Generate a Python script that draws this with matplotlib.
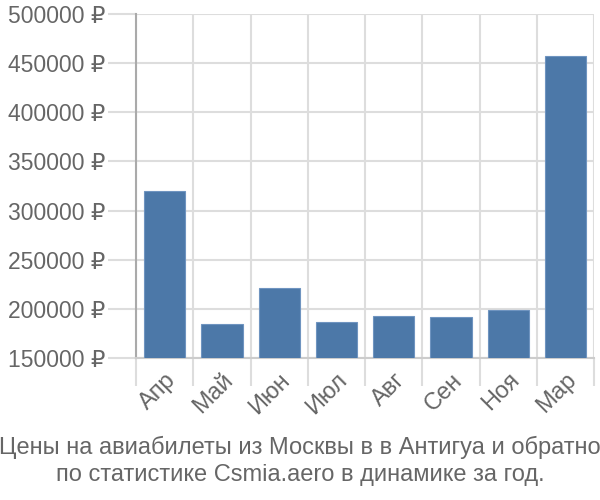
import matplotlib
matplotlib.use("Agg")
import matplotlib.pyplot as plt
import matplotlib.ticker as mticker

plt.rcParams["font.family"] = ["Liberation Sans", "DejaVu Sans"]

# ---------------------------------------------------------------------------
# Data
# ---------------------------------------------------------------------------

months = ["Апр", "Май", "Июн", "Июл", "Авг", "Сен", "Ноя", "Мар"]
prices = [320000, 185000, 221500, 186500, 192500, 192000, 199000, 457500]
y_ticks = [150000, 200000, 250000, 300000, 350000, 400000, 450000, 500000]

caption = ("Цены на авиабилеты из Москвы в в Антигуа и обратно\n"
           "по статистике Csmia.aero в динамике за год.")

# ---------------------------------------------------------------------------
# Figure
# ---------------------------------------------------------------------------

text_col = "#666666"
grid_col = "#dddddd"

fig = plt.figure(figsize=(6, 5), dpi=100)
ax = fig.add_axes([0.227, 0.284, 0.763, 0.688])

x = list(range(len(months)))
ax.bar(x, prices, width=0.72, color="#4c78a8", edgecolor="#6f94c0",
       linewidth=0.8, zorder=3)

ax.set_ylim(150000, 500000)
ax.set_xlim(-0.5, len(months) - 0.5)
ax.set_yticks(y_ticks)
ax.yaxis.set_major_formatter(mticker.FuncFormatter(lambda v, _: f"{v:.0f} ₽"))

# vertical grid at category boundaries
ax.set_xticks([i - 0.5 for i in range(len(months) + 1)], minor=False)
ax.set_xticklabels([])
ax.set_xticks(x, minor=True)
ax.set_xticklabels(months, minor=True, rotation=45, ha="right",
                   rotation_mode="anchor", fontsize=17, color=text_col)
ax.tick_params(axis="x", which="minor", length=0, pad=8)
ax.tick_params(axis="x", which="major", length=20, color=grid_col, width=1.5)
ax.tick_params(axis="y", length=20, color=grid_col, width=1.5,
               labelsize=16.5, labelcolor=text_col, pad=2)

ax.grid(True, which="major", color=grid_col, linewidth=1.5, zorder=0)

for side in ["top", "right"]:
    ax.spines[side].set_visible(False)
ax.spines["left"].set_color("#aaaaaa")
ax.spines["left"].set_linewidth(1.5)
ax.spines["bottom"].set_color("#cccccc")
ax.spines["bottom"].set_linewidth(1.5)

fig.text(0.5, 0.078, caption, ha="center", va="center", fontsize=17,
         color=text_col, linespacing=1.25)

fig.savefig("out.png", dpi=100)
plt.close()
